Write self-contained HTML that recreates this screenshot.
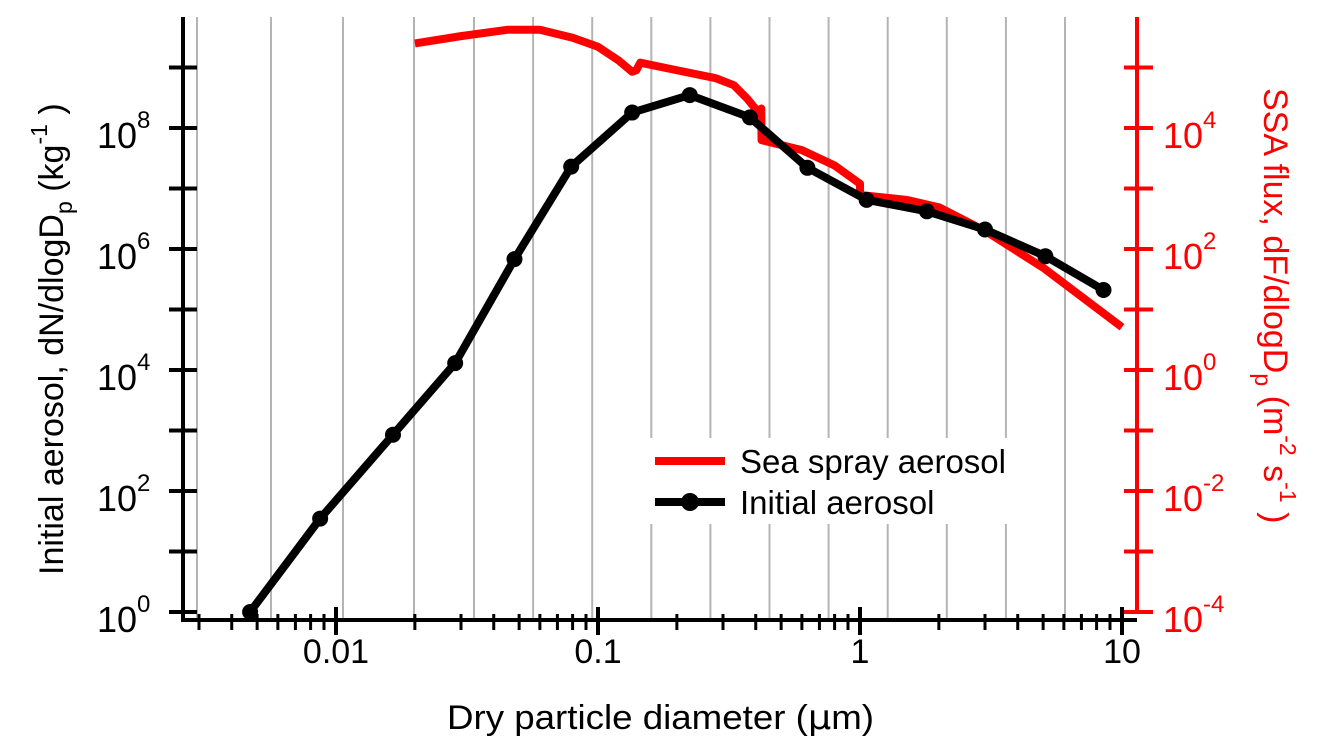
<!DOCTYPE html>
<html><head><meta charset="utf-8"><style>
body{margin:0;background:#fff}
svg{display:block;font-family:"Liberation Sans",Arial,sans-serif}
</style></head><body>
<svg id="chart" width="1323" height="756" viewBox="0 0 1323 756">
<g id="grid"></g>
<g id="legendbg"></g>
<g id="series"></g>
<g id="axes"></g>
<g id="legend"></g>
</svg>
<script>
const initD=[0.0047,0.0087,0.0165,0.0285,0.048,0.079,0.135,0.224,0.38,0.63,1.06,1.8,3.0,5.1,8.5];
const initN=[1,35,850,1.3e4,6.8e5,2.3e7,1.8e8,3.5e8,1.5e8,2.2e7,6.5e6,4.2e6,2.1e6,7.6e5,2.1e5];
const ssaD=[0.02,0.03,0.045,0.06,0.08,0.1,0.12,0.135,0.14,0.145,0.2,0.28,0.33,0.37,0.41,0.42,0.421,0.6,0.8,1.0,1.001,1.5,2,3,5,10];
const ssaF=[2.5e5,3.3e5,4.2e5,4.2e5,3.1e5,2.2e5,1.3e5,8.5e4,9e4,1.2e5,9e4,6.7e4,5.1e4,3.1e4,1.8e4,2.1e4,6.3e3,4.3e3,2.4e3,1.2e3,780,650,490,200,49,5.1];
const leftExps=[0,2,4,6,8];
const rightExps=[-4,-2,0,2,4];
const xMajor=[0.01,0.1,1,10];
const xMajorLabels=["0.01","0.1","1","10"];

const NS="http://www.w3.org/2000/svg";
const X0=183,XR=1137,YB=620,YT=17;
const xs=d=>336+(Math.log10(d)+2)*262;
const yl=v=>612-Math.log10(v)*60.5;
const yr=v=>612-(Math.log10(v)+4)*60.5;
function mk(tag,attrs,parent){const e=document.createElementNS(NS,tag);for(const k in attrs)e.setAttribute(k,attrs[k]);parent.appendChild(e);return e;}
const grid=document.getElementById('grid'),axes=document.getElementById('axes'),series=document.getElementById('series'),legend=document.getElementById('legend');

// gridlines (fixed pixel grid as in reference)
const gridX=[197,271,343,414];
for(let x=474;x<=1124;x+=59.1)gridX.push(x);
gridX.forEach(x=>{
 const g=mk('line',{x1:x,x2:x,y1:YT,y2:YB,stroke:'#b4b4b4','stroke-width':2},grid);
 
 
});
// x ticks
for(let dec=-3;dec<=1;dec++){for(let m=1;m<=9;m++){const d=m*Math.pow(10,dec);if(d<0.003||d>10.001)continue;const x=xs(d);
 const major=(m===1);
 const t=mk('line',{x1:x,x2:x,y1:major?607:614,y2:major?635:630,stroke:'#000','stroke-width':major?4:3},axes);
 
 
}}
// legend background
const lb=mk('rect',{x:640,y:438,width:410,height:86,fill:'#fff'},document.getElementById('legendbg'));



// axes lines
mk('polyline',{points:`${X0},${YT} ${X0},${YB} ${XR},${YB}`,fill:'none',stroke:'#000','stroke-width':4},axes);
mk('line',{x1:XR,x2:XR,y1:YT,y2:612,stroke:'#f00','stroke-width':4},axes);
mk('line',{x1:170,x2:X0,y1:612,y2:612,stroke:'#000','stroke-width':4},axes);
// left ticks
for(let e=0;e<=9;e++){const y=yl(Math.pow(10,e));if(y<YT)continue;
 const t=mk('line',{x1:169,x2:197,y1:y,y2:y,stroke:'#000','stroke-width':4},axes);
 
 }
for(let e=-4;e<=5;e++){const y=yr(Math.pow(10,e));if(y<YT)continue;
 const t=mk('line',{x1:1124,x2:1153,y1:y,y2:y,stroke:'#f00','stroke-width':4},axes);
 
 }
// left labels
leftExps.forEach(e=>{const y=yl(Math.pow(10,e));
 const t=mk('text',{x:97,y:y+20,'font-size':36,fill:'#000'},axes);
 
 
 t.innerHTML='10<tspan dy="-20" font-size="24">'+e+'</tspan>';});
rightExps.forEach(e=>{const y=yr(Math.pow(10,e));
 const t=mk('text',{x:1163,y:y+20,'font-size':36,fill:'#f00'},axes);
 
 
 t.innerHTML='10<tspan dy="-20" font-size="24">'+e+'</tspan>';});
xMajor.forEach((d,i)=>{const t=mk('text',{x:xs(d),y:663,'font-size':34,'text-anchor':'middle'},axes);
 
 
 t.textContent=xMajorLabels[i];});
// titles
let t=mk('text',{x:447,y:729,'font-size':34,textLength:427,lengthAdjust:'spacingAndGlyphs'},axes);

t.innerHTML='Dry particle diameter (<tspan font-family="DejaVu Sans">μ</tspan>m)';
t=mk('text',{x:0,y:0,'font-size':34,transform:'translate(63,575) rotate(-90)'},axes);

t.innerHTML='Initial aerosol, dN/dlogD<tspan dy="9" font-size="23">p</tspan><tspan dy="-9"> (kg</tspan><tspan dy="-16" font-size="23">-1</tspan><tspan dy="16"> )</tspan>';
t=mk('text',{x:0,y:0,'font-size':34,fill:'#f00',transform:'translate(1264,88) rotate(90)'},axes);

t.innerHTML='SSA flux, dF/dlogD<tspan dy="9" font-size="23">p</tspan><tspan dy="-9"> (m</tspan><tspan dy="-16" font-size="23">-2</tspan><tspan dy="16"> s</tspan><tspan dy="-16" font-size="23">-1</tspan><tspan dy="16"> )</tspan>';

// series
const ssa=mk('polyline',{points:ssaD.map((d,i)=>xs(d)+','+yr(ssaF[i])).join(' '),fill:'none',stroke:'#f00','stroke-width':8,'stroke-linejoin':'round'},series);

const il=mk('polyline',{points:initD.map((d,i)=>xs(d)+','+yl(initN[i])).join(' '),fill:'none',stroke:'#000','stroke-width':8,'stroke-linejoin':'round'},series);

initD.forEach((d,i)=>{const c=mk('circle',{cx:xs(d),cy:yl(initN[i]),r:8,fill:'#000'},series);
 
 });

// legend
let l=mk('line',{x1:655,x2:725,y1:461,y2:461,stroke:'#f00','stroke-width':8},legend);

t=mk('text',{x:740,y:473,'font-size':33},legend);t.textContent='Sea spray aerosol';

l=mk('line',{x1:655,x2:725,y1:502,y2:502,stroke:'#000','stroke-width':8},legend);

l=mk('circle',{cx:690,cy:502,r:9,fill:'#000'},legend);

t=mk('text',{x:740,y:514,'font-size':33},legend);t.textContent='Initial aerosol';

</script>
</body></html>
